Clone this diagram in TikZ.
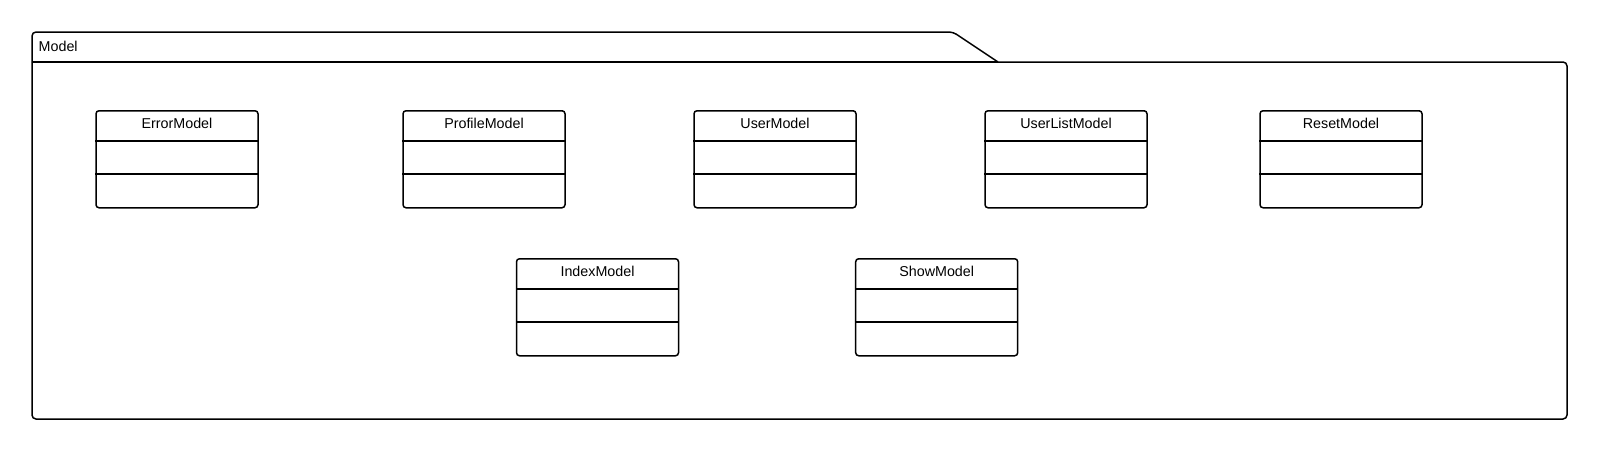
\documentclass[tikz,border=0pt]{standalone}
\usepackage{fontspec}
\setmainfont{Liberation Sans}
\usetikzlibrary{calc}
\tikzset{
  pkgline/.style={line width=1.5pt, line join=round},
  cls/.style={draw, line width=1.5pt, rounded corners=3pt, minimum width=162pt, minimum height=97pt, inner sep=0pt},
  clstitle/.style={font=\fontsize{14.3}{17}\selectfont, inner sep=0pt},
  divider/.style={line width=1.8pt},
}
\newcommand\umlclass[4]{%
  \node[cls, anchor=north] (#1) at (#2,#3) {};
  \node[clstitle] (#1-t) at ($(#1.north)+(0,13.5)$) {#4};
  \draw[divider] ($(#1.north west)+(0,30.8)$) -- ($(#1.north east)+(0,30.8)$);
  \draw[divider] ($(#1.north west)+(0,63.7)$) -- ($(#1.north east)+(0,63.7)$);
}
\begin{document}
\begin{tikzpicture}[x=1pt,y=-1pt]
\useasboundingbox (0,0) rectangle (1600,453);
% package tab
\coordinate (tabbl) at (32,62);
\coordinate (tabtl) at (32,32);
\coordinate (tabtr) at (953,32);
\coordinate (tabbr) at (998,62);
\draw[pkgline, rounded corners=4pt] (tabbl) -- (tabtl) -- (tabtr) -- (tabbr);
\draw[line width=1.2pt] (tabbl) -- (tabbr);
% package body
\coordinate (bodybl) at (32,419);
\coordinate (bodybr) at (1567,419);
\coordinate (bodytr) at (1567,62);
\draw[pkgline, rounded corners=4pt] (tabbl) -- (bodybl) -- (bodybr) -- (bodytr) -- (tabbr);
\node[clstitle, anchor=west] (pkglabel) at (38.5,46) {Model};
% classes
\umlclass{err}{177}{110}{ErrorModel}
\umlclass{prof}{484}{110}{ProfileModel}
\umlclass{user}{775}{110}{UserModel}
\umlclass{ulist}{1066}{110}{UserListModel}
\umlclass{reset}{1341}{110}{ResetModel}
\umlclass{index}{597.5}{258}{IndexModel}
\umlclass{show}{936.7}{258}{ShowModel}
\end{tikzpicture}
\end{document}
